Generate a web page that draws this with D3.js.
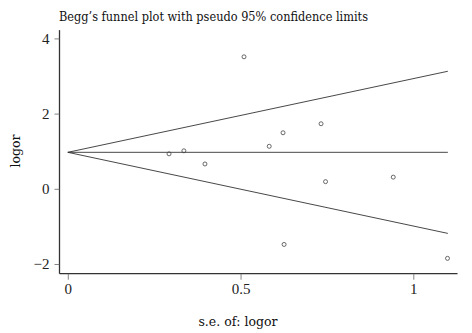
<!DOCTYPE html>
<html><head><meta charset="utf-8">
<script src="https://cdn.jsdelivr.net/npm/d3@7"></script>
<style>body{margin:0;background:#fff}svg{display:block}
.serif{font-family:"Liberation Serif","DejaVu Serif",serif}
.dserif{font-family:"DejaVu Serif","Liberation Serif",serif}
</style>
</head><body><svg id="c" width="472" height="333"></svg>
<script>
const seValues = [0.293, 0.336, 0.397, 0.510, 0.583, 0.623, 0.626, 0.733, 0.746, 0.942, 1.099];
const logorValues = [0.93, 1.01, 0.66, 3.51, 1.13, 1.49, -1.48, 1.73, 0.19, 0.31, -1.85];
const pooledEstimate = 0.97;
const seRange = [0, 1.10];
const xTicks = [0, 0.5, 1];
const xTickLabels = ["0", "0.5", "1"];
const yTicks = [-2, 0, 2, 4];
const yTickLabels = ["\u22122", "0", "2", "4"];
const title = "Begg\u2019s funnel plot with pseudo 95% confidence limits";
const xTitle = "s.e. of: logor";
const yTitle = "logor";

const svg = d3.select("#c");
const x = d3.scaleLinear().domain([0, 1]).range([67.8, 413.3]);
const y = d3.scaleLinear().domain([0, 2]).range([188.8, 113.6]);
const xAxisY = 273.7, yAxisX = 59.5;
const col = "#333";

// axes
const xAx = svg.append("g").attr("transform", `translate(0,${xAxisY})`)
  .call(d3.axisBottom(x).tickValues(xTicks).tickFormat((d,i)=>xTickLabels[i]).tickSize(6).tickPadding(4).tickSizeOuter(0));
xAx.select(".domain").attr("d", `M${yAxisX},0H${x(1.128)}`);
const yAx = svg.append("g").attr("transform", `translate(${yAxisX},0)`)
  .call(d3.axisLeft(y).tickValues(yTicks).tickFormat((d,i)=>yTickLabels[i]).tickSize(5).tickPadding(5).tickSizeOuter(0));
yAx.select(".domain").attr("d", `M0,${y(4.22)}V${xAxisY}`);
[xAx, yAx].forEach(g => {
  g.attr("font-family", null);
  g.select(".domain").attr("stroke", col).attr("stroke-width", 1.3);
  g.selectAll(".tick line").attr("stroke", "#666").attr("stroke-width", 0.8);
  g.selectAll(".tick text").attr("class", "serif").style("font-size", "15px").attr("fill", "#222");
});

// funnel lines
const line = d3.line().x(d => x(d[0])).y(d => y(d[1]));
const mk = k => seRange.map(s => [s, pooledEstimate + k * 1.96 * s]);
[mk(1), mk(0), mk(-1)].forEach(pts => {
  svg.append("path").attr("d", line(pts)).attr("fill", "none").attr("stroke", col).attr("stroke-width", 0.9);
});

// points
svg.append("g").selectAll("circle").data(seValues).join("circle")
  .attr("cx", d => x(d)).attr("cy", (d,i) => y(logorValues[i])).attr("r", 2)
  .attr("fill", "none").attr("stroke", "#444").attr("stroke-width", 0.8);

// titles
svg.append("text").attr("class", "dserif").attr("x", 59).attr("y", 21).style("font-size", "12px")
  .attr("fill", "#111").attr("textLength", 309).attr("lengthAdjust", "spacingAndGlyphs").text(title);
svg.append("text").attr("class", "dserif").attr("x", 238).attr("y", 326).attr("text-anchor", "middle")
  .style("font-size", "12.5px").attr("fill", "#111").text(xTitle);
svg.append("text").attr("class", "dserif").attr("transform", "translate(20,151) rotate(-90)").attr("text-anchor", "middle")
  .style("font-size", "12.5px").attr("fill", "#111").text(yTitle);
</script></body></html>
